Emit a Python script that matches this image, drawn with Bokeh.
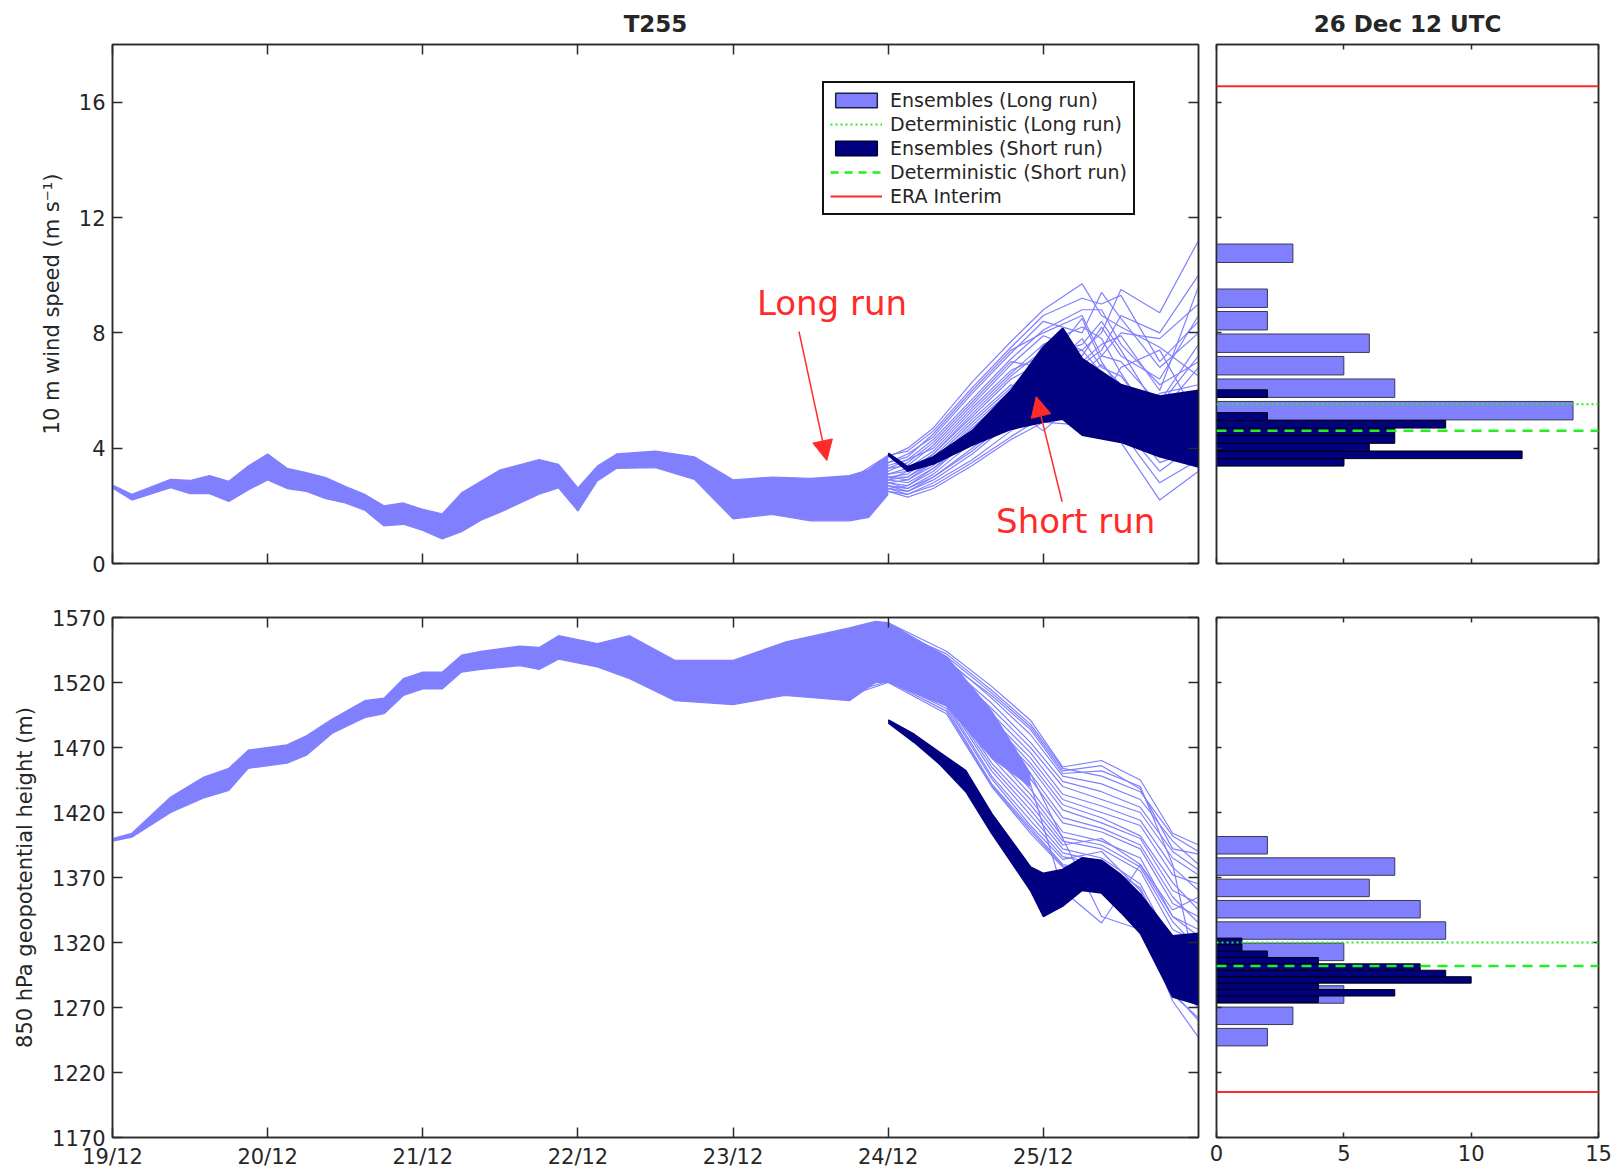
import numpy as np
from bokeh.plotting import figure
from bokeh.models import (FixedTicker, LinearAxis, Range1d, Legend, LegendItem,
                          Span, Label, Arrow, NormalHead)
from bokeh.layouts import column, row
from bokeh.embed import file_html
from bokeh.resources import INLINE

# ---------------- data (hours since 19/12 00 UTC) ----------------
DAY_TICKS = [0, 24, 48, 72, 96, 120, 144]
DAY_LABELS = ["19/12", "20/12", "21/12", "22/12", "23/12", "24/12", "25/12"]
WIND_TICKS = [0, 4, 8, 12, 16]
Z_TICKS = [1170, 1220, 1270, 1320, 1370, 1420, 1470, 1520, 1570]
COUNT_TICKS = [0, 5, 10, 15]

# 10 m wind: long-run ensemble envelope (dense part)
WIND_BAND_T = [0, 3, 9, 12, 15, 18, 21, 24, 27, 30, 33, 36, 39, 42, 45, 48, 51, 54, 57, 60,
               66, 69, 72, 75, 78, 84, 90, 96, 102, 108, 114, 117, 120]
WIND_BAND_LO = [2.62, 2.20, 2.63, 2.42, 2.42, 2.15, 2.55, 2.90, 2.60, 2.50, 2.25, 2.10, 1.85,
                1.30, 1.36, 1.15, 0.85, 1.10, 1.50, 1.78, 2.40, 2.62, 1.82, 2.86, 3.30, 3.32,
                2.92, 1.55, 1.70, 1.48, 1.48, 1.60, 2.40]
WIND_BAND_HI = [2.72, 2.40, 2.92, 2.88, 3.05, 2.85, 3.38, 3.80, 3.30, 3.15, 2.98, 2.68, 2.40,
                2.00, 2.10, 1.88, 1.72, 2.45, 2.85, 3.25, 3.60, 3.44, 2.62, 3.38, 3.80, 3.90,
                3.70, 2.90, 3.00, 2.95, 3.05, 3.25, 3.75]
# 10 m wind: long-run members where they spread out
WIND_MEMBER_T = [114, 120, 123, 127, 133, 139, 144, 150, 153, 156, 162, 168]
WIND_LONG_MEMBERS = [
    [2.8, 3.7, 4.0, 4.7, 6.3, 7.7, 8.8, 9.7, 8.6, 8.2, 7.5, 6.5],
    [2.6, 3.5, 3.8, 4.4, 5.9, 7.3, 8.4, 8.0, 9.4, 8.5, 6.8, 8.0],
    [2.4, 3.3, 3.4, 4.1, 5.5, 6.9, 7.9, 7.4, 8.0, 9.5, 8.7, 11.2],
    [2.2, 3.1, 3.2, 3.8, 5.2, 6.5, 7.4, 7.0, 7.6, 7.9, 6.0, 9.6],
    [2.0, 3.0, 3.0, 3.5, 4.8, 6.0, 7.0, 6.6, 7.2, 7.0, 5.5, 7.2],
    [1.9, 2.9, 2.8, 3.3, 4.5, 5.6, 6.6, 7.8, 6.8, 6.5, 4.8, 5.8],
    [1.8, 2.8, 2.6, 3.1, 4.2, 5.3, 6.2, 6.0, 6.4, 5.8, 4.2, 4.6],
    [1.7, 2.7, 2.5, 3.0, 3.9, 5.0, 5.8, 5.5, 5.9, 5.2, 3.5, 4.0],
    [1.6, 2.6, 2.4, 2.8, 3.6, 4.6, 5.4, 5.2, 5.0, 4.6, 2.8, 3.6],
    [1.55, 2.5, 2.3, 2.6, 3.4, 4.3, 4.9, 4.8, 4.6, 4.2, 2.2, 3.2],
    [2.3, 3.2, 3.5, 4.2, 5.6, 7.0, 6.8, 8.5, 7.0, 6.0, 5.0, 4.4],
    [2.1, 3.0, 3.1, 3.7, 5.0, 6.2, 5.6, 6.2, 5.6, 6.8, 7.4, 5.0],
    [1.9, 2.8, 2.9, 3.4, 4.6, 5.8, 7.6, 7.2, 8.2, 7.2, 6.4, 8.6],
    [1.7, 2.6, 2.7, 3.2, 4.4, 5.4, 4.6, 5.8, 6.0, 5.4, 4.0, 5.6],
    [2.5, 3.4, 3.6, 4.3, 5.7, 7.1, 8.1, 8.8, 8.8, 7.6, 6.2, 7.0],
    [2.0, 2.9, 3.0, 3.6, 4.9, 6.1, 7.2, 6.9, 7.4, 8.6, 8.0, 10.0],
    [1.8, 2.7, 2.6, 3.0, 4.0, 5.1, 6.0, 6.4, 5.4, 5.0, 5.9, 6.2],
    [2.2, 3.1, 3.3, 3.9, 5.3, 6.6, 7.6, 8.2, 7.8, 6.6, 4.6, 3.8],
    [2.9, 3.75, 3.9, 4.6, 6.1, 7.5, 8.6, 9.2, 9.0, 9.3, 7.0, 8.4],
    [2.4, 3.3, 3.6, 4.0, 5.4, 6.7, 7.2, 7.6, 8.4, 7.4, 5.2, 6.0],
    [1.7, 2.6, 2.5, 2.9, 3.8, 4.9, 5.6, 5.0, 5.3, 4.9, 4.4, 4.8],
    [2.0, 2.9, 3.2, 3.8, 5.1, 6.4, 7.0, 7.4, 6.6, 6.2, 5.2, 6.8],
    [1.6, 2.5, 2.4, 2.7, 3.5, 4.4, 5.1, 5.6, 5.8, 4.8, 3.2, 4.2],
    [2.6, 3.5, 3.7, 4.5, 6.0, 7.4, 8.0, 8.6, 7.2, 8.0, 7.8, 9.0],
    [2.1, 3.0, 2.9, 3.5, 4.7, 5.9, 6.9, 6.4, 6.9, 6.2, 5.6, 7.6],
    [1.9, 2.8, 2.7, 3.3, 4.3, 5.5, 6.4, 7.0, 6.2, 5.6, 3.9, 5.2],
]
# 10 m wind: short-run ensemble envelope
WIND_SHORT_T = [120, 123, 127, 133, 139, 144, 147, 150, 156, 162, 168]
WIND_SHORT_LO = [3.75, 3.20, 3.45, 4.10, 4.65, 4.90, 5.00, 4.45, 4.20, 3.70, 3.35]
WIND_SHORT_HI = [3.82, 3.35, 3.70, 4.60, 6.00, 7.50, 8.15, 7.10, 6.20, 5.80, 6.00]

# 850 hPa height: long-run envelope (dense part)
Z_BAND_T = [0, 3, 9, 14, 18, 21, 27, 30, 34, 39, 42, 45, 48, 51, 54, 57, 63, 66, 69, 75, 80,
            87, 96, 104, 114, 118, 120, 129, 136, 142]
Z_BAND_LO = [1398, 1401, 1420, 1431, 1437, 1454, 1458, 1464, 1481, 1493, 1496, 1510, 1515,
             1515, 1528, 1530, 1533, 1530, 1538, 1532, 1523, 1506, 1503, 1510, 1506, 1520,
             1520, 1502, 1462, 1440]
Z_BAND_HI = [1400, 1404, 1432, 1447, 1454, 1468, 1472, 1479, 1492, 1506, 1508, 1523, 1528,
             1528, 1541, 1544, 1548, 1547, 1556, 1550, 1556, 1537, 1537, 1551, 1562, 1567,
             1566, 1540, 1498, 1450]
Z_MEMBER_T = [114, 120, 129, 136, 142, 147, 153, 159, 164, 168]
Z_LONG_MEMBERS = [
    [1560, 1566, 1544, 1517, 1491, 1455, 1460, 1445, 1404, 1395],
    [1555, 1560, 1538, 1508, 1480, 1448, 1442, 1430, 1398, 1380],
    [1550, 1555, 1532, 1500, 1470, 1440, 1430, 1420, 1385, 1372],
    [1545, 1550, 1528, 1492, 1462, 1430, 1420, 1410, 1372, 1365],
    [1540, 1545, 1524, 1486, 1455, 1422, 1412, 1400, 1360, 1350],
    [1536, 1540, 1520, 1478, 1446, 1412, 1405, 1392, 1350, 1340],
    [1532, 1536, 1516, 1470, 1438, 1405, 1398, 1385, 1340, 1330],
    [1528, 1532, 1512, 1462, 1430, 1398, 1392, 1375, 1330, 1320],
    [1524, 1528, 1508, 1455, 1422, 1392, 1385, 1365, 1318, 1310],
    [1520, 1525, 1504, 1448, 1414, 1386, 1380, 1355, 1305, 1300],
    [1515, 1522, 1500, 1442, 1408, 1380, 1375, 1345, 1290, 1270],
    [1510, 1520, 1496, 1440, 1404, 1378, 1371, 1337, 1275, 1247],
    [1540, 1548, 1528, 1490, 1450, 1400, 1340, 1330, 1280, 1262],
    [1548, 1552, 1536, 1510, 1484, 1450, 1452, 1440, 1380, 1290],
    [1552, 1558, 1540, 1512, 1486, 1452, 1456, 1438, 1392, 1388],
    [1534, 1538, 1518, 1474, 1442, 1360, 1335, 1380, 1340, 1325],
    [1526, 1530, 1510, 1458, 1426, 1395, 1400, 1380, 1345, 1355],
    [1518, 1524, 1502, 1446, 1410, 1384, 1390, 1360, 1300, 1285],
    [1557, 1562, 1542, 1514, 1488, 1454, 1448, 1436, 1402, 1390],
    [1543, 1548, 1526, 1490, 1458, 1426, 1416, 1402, 1366, 1345],
    [1530, 1534, 1514, 1466, 1434, 1401, 1395, 1378, 1336, 1315],
    [1522, 1526, 1506, 1452, 1418, 1389, 1382, 1362, 1312, 1305],
    [1538, 1542, 1522, 1482, 1450, 1416, 1408, 1395, 1355, 1335],
    [1547, 1551, 1530, 1496, 1466, 1434, 1425, 1414, 1378, 1360],
    [1512, 1521, 1498, 1441, 1406, 1379, 1373, 1341, 1282, 1260],
    [1553, 1557, 1534, 1504, 1474, 1444, 1436, 1424, 1390, 1376],
]
Z_SHORT_T = [120, 124, 128, 132, 136, 142, 144, 147, 150, 153, 156, 159, 164, 168]
Z_SHORT_LO = [1489, 1474, 1457, 1436, 1404, 1360, 1340, 1348, 1360, 1358, 1343, 1327, 1278, 1272]
Z_SHORT_HI = [1491, 1480, 1466, 1452, 1419, 1378, 1373, 1376, 1385, 1383, 1372, 1357, 1325, 1327]

# histograms at 26 Dec 12 UTC
WIND_LONG_BINS = [3.74, 4.52, 5.30, 6.08, 6.86, 7.64, 8.42, 9.20, 9.98, 10.76]
WIND_LONG_COUNTS = [5, 6, 14, 7, 5, 6, 2, 2, 0, 3]
WIND_SHORT_BINS = [3.51, 3.77, 4.04, 4.30, 4.57, 4.83, 5.10, 5.36, 5.63, 5.89]
WIND_SHORT_COUNTS = [5, 12, 6, 7, 7, 9, 2, 0, 0, 2]
Z_LONG_BINS = [1247.2, 1263.6, 1280.0, 1296.4, 1312.8, 1329.2, 1345.6, 1362.0, 1378.4, 1394.8]
Z_LONG_COUNTS = [2, 3, 5, 3, 5, 9, 8, 6, 7, 2]
Z_SHORT_BINS = [1276.4, 1281.3, 1286.3, 1291.2, 1296.2, 1301.1, 1306.0, 1311.0, 1315.9, 1320.9]
Z_SHORT_COUNTS = [4, 7, 4, 10, 9, 8, 4, 2, 1, 1]

WIND_DET_LONG, WIND_DET_SHORT, WIND_ERA = 5.52, 4.60, 16.55
Z_DET_LONG, Z_DET_SHORT, Z_ERA = 1320, 1302, 1205

# ---------------- styling ----------------
LIGHT = "#8080FF"
DARK = "#000080"
GREEN = "#22ee22"
RED = "#ff2a2a"
AXC = "#2b2b2b"
TXT = "#262626"
FONT = "DejaVu Sans"
NAN = [float("nan")]


def style_axis(ax, ticks, show, tick_len, labels=None):
    ax.ticker = FixedTicker(ticks=ticks)
    ax.major_tick_in = tick_len
    ax.major_tick_out = 0
    ax.minor_tick_line_color = None
    ax.axis_line_color = AXC
    ax.axis_line_width = 1.5
    ax.major_tick_line_color = AXC
    ax.major_tick_line_width = 1.5
    if show:
        ax.major_label_text_font = FONT
        ax.major_label_text_font_size = "21px"
        ax.major_label_text_color = TXT
        ax.major_label_standoff = 7
        if labels is not None:
            ax.major_label_overrides = {t: l for t, l in zip(ticks, labels)}
    else:
        ax.major_label_text_color = None
        ax.major_label_text_font_size = "1px"
        ax.major_label_standoff = 0


def boxed(p, xticks, yticks, show_x, show_y, tick_len, xlabels=None, ylabel=None):
    p.grid.visible = False
    p.outline_line_color = AXC
    p.outline_line_width = 1.5
    p.background_fill_color = "white"
    p.border_fill_color = "white"
    style_axis(p.xaxis[0], xticks, show_x, tick_len, xlabels)
    style_axis(p.yaxis[0], yticks, show_y, tick_len)
    if ylabel:
        p.yaxis[0].axis_label = ylabel
        p.yaxis[0].axis_label_text_font = FONT
        p.yaxis[0].axis_label_text_font_size = "21px"
        p.yaxis[0].axis_label_text_font_style = "normal"
        p.yaxis[0].axis_label_text_color = TXT
        p.yaxis[0].axis_label_standoff = 12
    top = LinearAxis()
    style_axis(top, xticks, False, tick_len)
    p.add_layout(top, "above")
    right = LinearAxis()
    style_axis(right, yticks, False, tick_len)
    p.add_layout(right, "right")


def make_series(p, band_t, band_lo, band_hi, mem_t, members, s_t, s_lo, s_hi):
    p.varea(x=band_t, y1=band_lo, y2=band_hi, fill_color=LIGHT)
    p.line(x=band_t, y=band_lo, line_color=LIGHT, line_width=1.2)
    p.line(x=band_t, y=band_hi, line_color=LIGHT, line_width=1.2)
    p.multi_line(xs=[mem_t] * len(members), ys=members, line_color=LIGHT, line_width=1.2)
    p.varea(x=s_t, y1=s_lo, y2=s_hi, fill_color=DARK)
    p.line(x=s_t, y=s_lo, line_color=DARK, line_width=1.5)
    p.line(x=s_t, y=s_hi, line_color=DARK, line_width=2)


def make_hist(p, lb, lc, sb, sc, det_l, det_s, era):
    hl = float(np.mean(np.diff(lb))) * 0.82
    hs = float(np.mean(np.diff(sb)))
    p.hbar(y=lb, left=0, right=lc, height=hl, fill_color=LIGHT, line_color="#3a3a55", line_width=1)
    p.hbar(y=sb, left=0, right=sc, height=hs, fill_color=DARK, line_color="black", line_width=1)
    p.add_layout(Span(location=det_l, dimension="width", line_color=GREEN, line_width=2,
                      line_dash="2 3"))
    p.add_layout(Span(location=det_s, dimension="width", line_color=GREEN, line_width=2.5,
                      line_dash="10 7"))
    p.add_layout(Span(location=era, dimension="width", line_color=RED, line_width=2))


# ---------------- top row ----------------
p1 = figure(width=1207, height=590, x_range=Range1d(0, 168), y_range=Range1d(0, 18),
            output_backend="svg", toolbar_location=None,
            min_border_left=112, min_border_right=9, min_border_top=44, min_border_bottom=27)
p1.title.text = "T255"
p1.title.align = "center"
p1.title.text_font = FONT
p1.title.text_font_size = "23px"
p1.title.text_color = TXT
p1.title.standoff = 15
boxed(p1, DAY_TICKS, WIND_TICKS, False, True, 10, ylabel="10 m wind speed (m s⁻¹)")
make_series(p1, WIND_BAND_T, WIND_BAND_LO, WIND_BAND_HI, WIND_MEMBER_T, WIND_LONG_MEMBERS,
            WIND_SHORT_T, WIND_SHORT_LO, WIND_SHORT_HI)

# legend entries (renderers with no drawable points, only carrying the styles)
r1 = p1.quad(left=NAN, right=NAN, top=NAN, bottom=NAN, fill_color=LIGHT, line_color="#202040",
             line_width=1.5)
r2 = p1.line(x=NAN, y=NAN, line_color=GREEN, line_width=2, line_dash="2 3")
r3 = p1.quad(left=NAN, right=NAN, top=NAN, bottom=NAN, fill_color=DARK, line_color="#000030",
             line_width=1.5)
r4 = p1.line(x=NAN, y=NAN, line_color=GREEN, line_width=2.5, line_dash="8 6")
r5 = p1.line(x=NAN, y=NAN, line_color=RED, line_width=2)
legend = Legend(items=[
    LegendItem(label="Ensembles (Long run)", renderers=[r1]),
    LegendItem(label="Deterministic (Long run)", renderers=[r2]),
    LegendItem(label="Ensembles (Short run)", renderers=[r3]),
    LegendItem(label="Deterministic (Short run)", renderers=[r4]),
    LegendItem(label="ERA Interim", renderers=[r5]),
], location=(710, 348))
legend.label_text_font = FONT
legend.label_text_font_size = "19px"
legend.label_text_color = TXT
legend.glyph_width = 52
legend.glyph_height = 18
legend.label_height = 22
legend.label_standoff = 8
legend.spacing = 2
legend.padding = 6
legend.margin = 0
legend.border_line_color = "#111111"
legend.border_line_alpha = 1
legend.border_line_width = 2
legend.background_fill_alpha = 1
p1.add_layout(legend)

p1.add_layout(Label(x=111.3, y=9.04, text="Long run", text_align="center",
                    text_baseline="middle", text_font=FONT, text_font_size="34px",
                    text_color=RED))
p1.add_layout(Arrow(end=NormalHead(size=20, fill_color=RED, line_color=RED),
                    x_start=106.2, y_start=8.04, x_end=110.5, y_end=3.57,
                    line_color=RED, line_width=1.5))
p1.add_layout(Label(x=149.0, y=1.46, text="Short run", text_align="center",
                    text_baseline="middle", text_font=FONT, text_font_size="34px",
                    text_color=RED))
p1.add_layout(Arrow(end=NormalHead(size=20, fill_color=RED, line_color=RED),
                    x_start=146.9, y_start=2.14, x_end=142.9, y_end=5.79,
                    line_color=RED, line_width=1.5))

p2 = figure(width=412, height=590, x_range=Range1d(0, 15), y_range=p1.y_range,
            output_backend="svg", toolbar_location=None,
            min_border_left=9, min_border_right=21, min_border_top=44, min_border_bottom=27)
p2.title.text = "26 Dec 12 UTC"
p2.title.align = "center"
p2.title.text_font = FONT
p2.title.text_font_size = "23px"
p2.title.text_color = TXT
p2.title.standoff = 15
boxed(p2, COUNT_TICKS, WIND_TICKS, False, False, 5)
make_hist(p2, WIND_LONG_BINS, WIND_LONG_COUNTS, WIND_SHORT_BINS, WIND_SHORT_COUNTS,
          WIND_DET_LONG, WIND_DET_SHORT, WIND_ERA)

# ---------------- bottom row ----------------
p3 = figure(width=1207, height=583, x_range=p1.x_range, y_range=Range1d(1170, 1570),
            output_backend="svg", toolbar_location=None,
            min_border_left=112, min_border_right=9, min_border_top=27, min_border_bottom=36)
boxed(p3, DAY_TICKS, Z_TICKS, True, True, 10, xlabels=DAY_LABELS,
      ylabel="850 hPa geopotential height (m)")
make_series(p3, Z_BAND_T, Z_BAND_LO, Z_BAND_HI, Z_MEMBER_T, Z_LONG_MEMBERS,
            Z_SHORT_T, Z_SHORT_LO, Z_SHORT_HI)

p4 = figure(width=412, height=583, x_range=p2.x_range, y_range=p3.y_range,
            output_backend="svg", toolbar_location=None,
            min_border_left=9, min_border_right=21, min_border_top=27, min_border_bottom=36)
boxed(p4, COUNT_TICKS, Z_TICKS, True, False, 5)
make_hist(p4, Z_LONG_BINS, Z_LONG_COUNTS, Z_SHORT_BINS, Z_SHORT_COUNTS,
          Z_DET_LONG, Z_DET_SHORT, Z_ERA)

layout = column(row(p1, p2), row(p3, p4))
open("out.html", "w").write(file_html(layout, INLINE))
